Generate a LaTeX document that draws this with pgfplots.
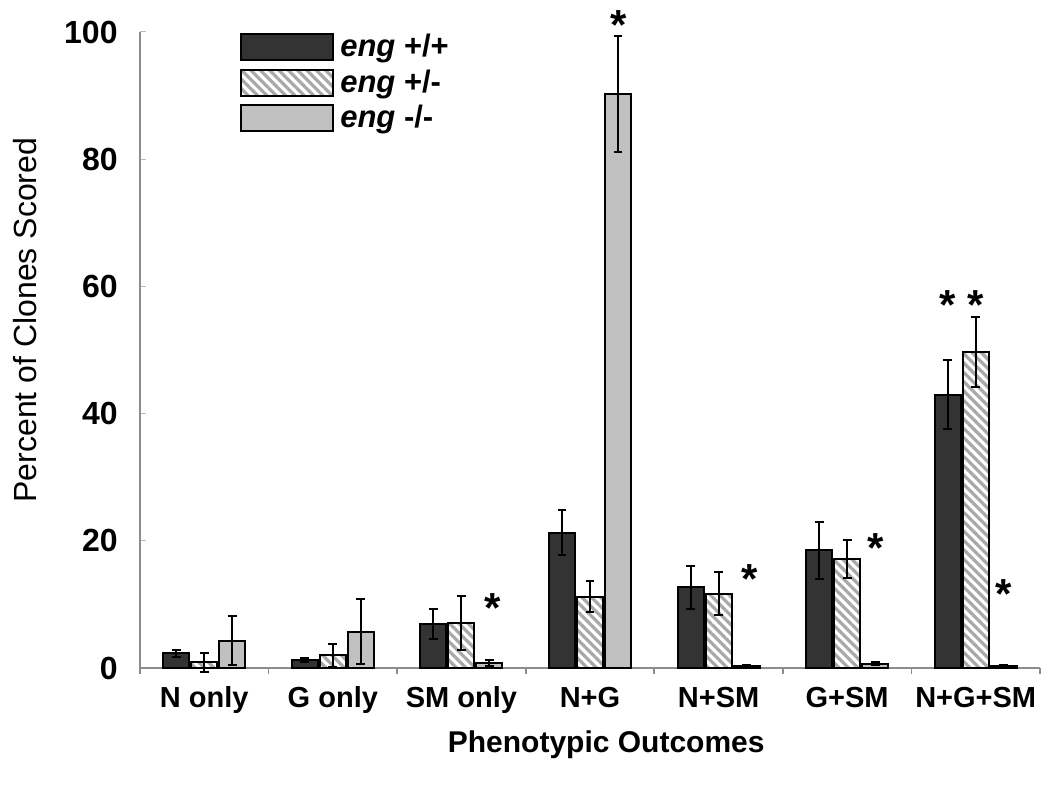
\documentclass[border=0pt]{standalone}
\usepackage{fontspec}
\setmainfont{Liberation Sans}
\usepackage{pgfplots}
\usepackage{pgfplotstable}
\pgfplotsset{compat=1.18}
\usetikzlibrary{patterns.meta}
\definecolor{darkbar}{HTML}{333333}
\definecolor{lightbar}{HTML}{C0C0C0}
\definecolor{hatchc}{HTML}{A8A8A8}
\definecolor{axisgray}{HTML}{8C8C8C}

\pgfplotstableread{
x y e
0 2.3 0.5
1 1.3 0.3
2 6.9 2.4
3 21.3 3.6
4 12.7 3.4
5 18.5 4.45
6 43.0 5.45
}\wt
\pgfplotstableread{
x y e
0 0.9 1.5
1 2.0 1.8
2 7.1 4.2
3 11.2 2.45
4 11.7 3.4
5 17.1 2.95
6 49.7 5.45
}\het
\pgfplotstableread{
x y e
0 4.3 3.9
1 5.7 5.1
2 0.8 0.45
3 90.2 9.1
4 0.3 0.2
5 0.7 0.3
6 0.3 0.15
}\ko

\newcommand{\legfont}{\bfseries\fontsize{15.5}{18}\selectfont}

\begin{document}
\begin{tikzpicture}[
  starnode/.style={anchor=base, yshift=-11.4pt, inner sep=0pt,
    font=\bfseries\fontsize{21}{21}\selectfont}]
\begin{axis}[
  scale only axis, width=450pt, height=318pt,
  xmin=-0.5, xmax=6.5, ymin=0, ymax=100,
  clip=false,
  ybar=1pt, bar width=13pt,
  axis x line*=bottom, axis y line*=left,
  axis line style={axisgray, line width=0.8pt},
  xtick={-0.5,0.5,...,6.5},
  x tick label as interval,
  xticklabels={N only, G only, SM only, N+G, N+SM, G+SM, N+G+SM},
  xtick align=outside,
  xtick style={axisgray, line width=0.8pt},
  ytick={0,20,...,100},
  ytick align=inside,
  ytick style={axisgray!60, line width=0.5pt},
  major tick length=3pt,
  /pgf/number format/assume math mode=true,
  yticklabel style={font=\bfseries\fontsize{16}{16}\selectfont, inner sep=0pt, anchor=east, xshift=-11pt},
  xticklabel style={font=\bfseries\fontsize{14.5}{14.5}\selectfont, inner sep=0pt, anchor=base, yshift=-17pt},
  xlabel={Phenotypic Outcomes},
  xlabel style={font=\bfseries\fontsize{15}{15}\selectfont, at={(axis description cs:0.518,0)}, anchor=north, inner sep=0pt, yshift=-31pt},
  ylabel={Percent of Clones Scored},
  ylabel style={font=\fontsize{16}{16}\selectfont, at={(axis description cs:-0.1278,0.547)}, anchor=center, inner sep=0pt},
  legend style={at={(axis description cs:0.111,1.0)}, anchor=north west, draw=none, fill=none,
    inner sep=0pt, row sep=3pt,
    nodes={inner sep=1pt}},
  legend cell align=left,
  legend image code/.code={\draw[#1] (0pt,-6.5pt) rectangle (46pt,6.5pt);},
  error bars/error bar style={line width=1pt, black, solid},
  error bars/error mark options={rotate=90, mark size=2.2pt, line width=1pt, black, solid},
]
\addplot[fill=darkbar, draw=black, line width=1pt,
  error bars/.cd, y dir=both, y explicit]
  table[x=x, y=y, y error=e] {\wt};
\addlegendentry{\legfont\hspace{2pt}\textit{eng} +/+}
\addplot[preaction={fill=white}, pattern={Lines[angle=-45,distance=3.3pt,line width=1.6pt]}, pattern color=hatchc, draw=black, line width=1pt,
  error bars/.cd, y dir=both, y explicit]
  table[x=x, y=y, y error=e] {\het};
\addlegendentry{\legfont\hspace{2pt}\textit{eng} +/-}
\addplot[fill=lightbar, draw=black, line width=1pt,
  error bars/.cd, y dir=both, y explicit]
  table[x=x, y=y, y error=e] {\ko};
\addlegendentry{\legfont\hspace{2pt}\textit{eng} -/-}
\node[starnode] at (axis cs:2.24,10.7) {*};
\node[starnode] at (axis cs:3.22,102.4) {*};
\node[starnode] at (axis cs:4.24,15.3) {*};
\node[starnode] at (axis cs:5.22,20.1) {*};
\node[starnode] at (axis cs:6.22,13.0) {*};
\node[starnode] at (axis cs:5.78,58.4) {*};
\node[starnode] at (axis cs:6.0,58.4) {*};
\end{axis}
\pgfresetboundingbox
\path (-70pt,-61pt) rectangle (461pt,334pt);
\end{tikzpicture}
\end{document}
